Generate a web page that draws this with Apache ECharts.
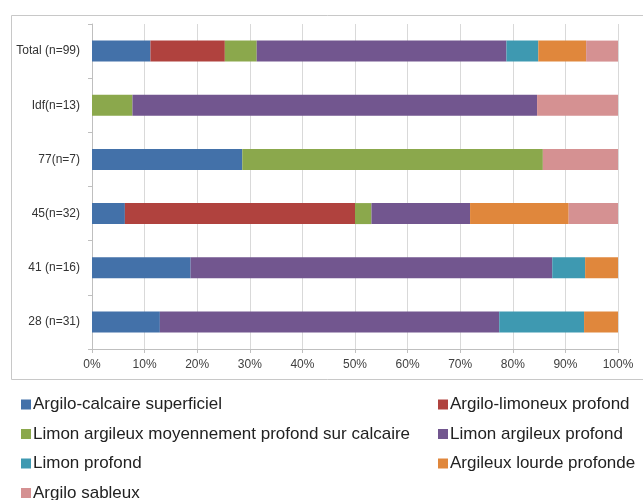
<!DOCTYPE html>
<html>
<head>
<meta charset="utf-8">
<script src="https://cdn.jsdelivr.net/npm/echarts@6/dist/echarts.min.js"></script>
<style>
  html, body { margin: 0; padding: 0; background: #ffffff; }
  #chart { width: 643px; height: 500px; }
</style>
</head>
<body>
<div id="chart"></div>
<script>
// Groups, listed top to bottom
const categories = ['Total (n=99)', 'Idf(n=13)', '77(n=7)', '45(n=32)', '41 (n=16)', '28 (n=31)'];
const groupSizes = [99, 13, 7, 32, 16, 31];

// Number of plots per soil type in each group (same order as categories)
const seriesNames = [
  'Argilo-calcaire superficiel',
  'Argilo-limoneux profond',
  'Limon argileux moyennement profond sur calcaire',
  'Limon argileux profond',
  'Limon profond',
  'Argileux lourde profonde',
  'Argilo sableux'
];
const argiloCalcaire   = [11, 0, 2, 2, 3, 4];
const argiloLimoneux   = [14, 0, 0, 14, 0, 0];
const limonMoyen       = [6, 1, 4, 1, 0, 0];
const limonArgileux    = [47, 10, 0, 6, 11, 20];
const limonProfond     = [6, 0, 0, 0, 1, 5];
const argileuxLourde   = [9, 0, 0, 6, 1, 2];
const argiloSableux    = [6, 2, 1, 3, 0, 0];

const xTicks = [0, 10, 20, 30, 40, 50, 60, 70, 80, 90, 100];

const counts = [argiloCalcaire, argiloLimoneux, limonMoyen, limonArgileux, limonProfond, argileuxLourde, argiloSableux];
const colors = ['#4371a9', '#b0423e', '#8ba84c', '#72568f', '#3e99b1', '#e0873c', '#d59192'];

// Share of each group, in percent
const series = seriesNames.map((name, i) => ({
  name: name,
  type: 'bar',
  stack: 'share',
  barWidth: 21,
  itemStyle: { color: colors[i] },
  emphasis: { disabled: true },
  data: counts[i].map((c, j) => c / groupSizes[j] * 100)
}));

const legendText = {
  fontFamily: 'Liberation Sans',
  fontSize: 17,
  color: '#222222',
  padding: [0, 0, 0, -3]
};

function legendColumn(left, names) {
  return {
    orient: 'vertical',
    left: left,
    top: 396,
    height: 120,
    padding: 0,
    itemWidth: 10,
    itemHeight: 10,
    itemGap: 12.5,
    icon: 'rect',
    textStyle: legendText,
    selectedMode: false,
    data: names
  };
}

const chart = echarts.init(document.getElementById('chart'), null, { renderer: 'canvas' });
chart.setOption({
  animation: false,
  backgroundColor: '#ffffff',
  graphic: [{
    type: 'rect',
    shape: { x: 11.5, y: 15.5, width: 640, height: 364 },
    style: { fill: 'none', stroke: '#c8c8c8', lineWidth: 1 },
    silent: true
  }],
  grid: { left: 92, right: 25, top: 24, bottom: 151, containLabel: false },
  xAxis: {
    type: 'value',
    min: xTicks[0],
    max: xTicks[xTicks.length - 1],
    interval: 10,
    axisLine: { show: true, lineStyle: { color: '#bfbfbf' } },
    axisTick: { show: true, length: 4, lineStyle: { color: '#bfbfbf' } },
    splitLine: { show: true, lineStyle: { color: '#d9d9d9' } },
    axisLabel: {
      formatter: '{value}%',
      fontFamily: 'Liberation Sans',
      fontSize: 12,
      color: '#404040',
      margin: 10
    }
  },
  yAxis: {
    type: 'category',
    inverse: true,
    data: categories,
    axisLine: { show: true, lineStyle: { color: '#bfbfbf' } },
    axisTick: { show: true, length: 4, alignWithLabel: false, lineStyle: { color: '#bfbfbf' } },
    splitLine: { show: false },
    axisLabel: {
      fontFamily: 'Liberation Sans',
      fontSize: 12,
      color: '#333333',
      margin: 12
    }
  },
  legend: [
    legendColumn(21, [seriesNames[0], seriesNames[2], seriesNames[4], seriesNames[6]]),
    legendColumn(438, [seriesNames[1], seriesNames[3], seriesNames[5]])
  ],
  series: series
});
</script>
</body>
</html>
